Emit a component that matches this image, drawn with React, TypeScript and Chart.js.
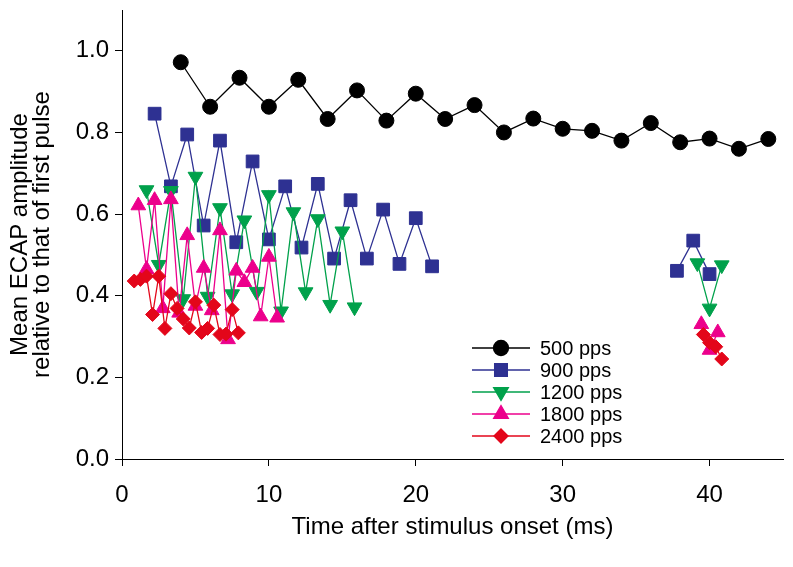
import React, { useEffect, useRef } from 'react';
import { Chart, registerables } from 'chart.js';
import { drawPoint } from 'chart.js/helpers';

Chart.register(...registerables);

// ---- data (time in ms, normalized ECAP amplitude) ----
const pps500X = [4, 6, 8, 10, 12, 14, 16, 18, 20, 22, 24, 26, 28, 30, 32, 34, 36, 38, 40, 42, 44];
const pps500Y = [0.972, 0.863, 0.934, 0.863, 0.929, 0.833, 0.903, 0.829, 0.895, 0.833, 0.867, 0.8, 0.834, 0.809, 0.804, 0.78, 0.823, 0.776, 0.785, 0.76, 0.784];

const pps900X = [2.22, 3.33, 4.44, 5.56, 6.67, 7.78, 8.89, 10.0, 11.11, 12.22, 13.33, 14.44, 15.56, 16.67, 17.78, 18.89, 20.0, 21.11];
const pps900Y = [0.846, 0.668, 0.795, 0.572, 0.78, 0.531, 0.729, 0.538, 0.668, 0.518, 0.674, 0.491, 0.634, 0.491, 0.611, 0.478, 0.59, 0.472];
const pps900LateX = [37.78, 38.89, 40.0];
const pps900LateY = [0.461, 0.535, 0.453];

const pps1200X = [1.67, 2.5, 3.33, 4.17, 5.0, 5.83, 6.67, 7.5, 8.33, 9.17, 10.0, 10.83, 11.67, 12.5, 13.33, 14.17, 15.0, 15.83];
const pps1200Y = [0.659, 0.476, 0.657, 0.392, 0.692, 0.398, 0.615, 0.404, 0.585, 0.41, 0.647, 0.362, 0.605, 0.409, 0.588, 0.378, 0.558, 0.372];
const pps1200LateX = [39.17, 40.0, 40.83];
const pps1200LateY = [0.48, 0.369, 0.475];

const pps1800X = [1.11, 1.67, 2.22, 2.78, 3.33, 3.89, 4.44, 5.0, 5.56, 6.11, 6.67, 7.22, 7.78, 8.33, 8.89, 9.44, 10.0, 10.56];
const pps1800Y = [0.621, 0.465, 0.634, 0.369, 0.636, 0.358, 0.548, 0.375, 0.468, 0.364, 0.56, 0.293, 0.461, 0.433, 0.468, 0.349, 0.495, 0.346];
const pps1800LateX = [39.44, 40.0, 40.56];
const pps1800LateY = [0.33, 0.267, 0.31];

const pps2400X = [0.83, 1.25, 1.67, 2.08, 2.5, 2.92, 3.33, 3.75, 4.17, 4.58, 5.0, 5.42, 5.83, 6.25, 6.67, 7.08, 7.5, 7.92];
const pps2400Y = [0.436, 0.44, 0.448, 0.354, 0.448, 0.32, 0.405, 0.369, 0.343, 0.321, 0.385, 0.31, 0.32, 0.377, 0.305, 0.306, 0.366, 0.309];
const pps2400LateX = [39.58, 40.0, 40.42, 40.83];
const pps2400LateY = [0.305, 0.285, 0.275, 0.245];

const seriesLabels = ['500 pps', '900 pps', '1200 pps', '1800 pps', '2400 pps'];
const xTickStep = 10;
const yTickStep = 0.2;

const COLORS = ['#000000', '#2E3192', '#00A14B', '#EC008C', '#E3061A'];
const STYLES = ['circle', 'rect', 'triangle', 'triangle', 'rectRot'];
const ROT = [0, 0, 180, 0, 0];
const RADII = [7.5, 9, 8.5, 8.5, 7];

const FONT = '"Liberation Sans", Arial, sans-serif';

function pts(xs: number[], ys: number[]) {
  return xs.map((x, i) => ({ x, y: ys[i] }));
}
function withGap(xs: number[], ys: number[], lx: number[], ly: number[]) {
  return [...pts(xs, ys), { x: (xs[xs.length - 1] + lx[0]) / 2, y: null as any }, ...pts(lx, ly)];
}

const legendPlugin = {
  id: 'insideLegend',
  afterDraw(chart: any) {
    const ctx = chart.ctx as CanvasRenderingContext2D;
    const rows = [348, 370, 392, 414, 436];
    const x0 = 472, x1 = 530, xm = 501, xt = 540;
    ctx.save();
    seriesLabels.forEach((lab, i) => {
      const y = rows[i];
      ctx.strokeStyle = COLORS[i];
      ctx.lineWidth = 1.3;
      ctx.beginPath();
      ctx.moveTo(x0, y);
      ctx.lineTo(x1, y);
      ctx.stroke();
      ctx.fillStyle = COLORS[i];
      drawPoint(ctx, { pointStyle: STYLES[i] as any, radius: RADII[i], rotation: ROT[i], borderWidth: 1 } as any, xm, y);
      ctx.fillStyle = '#000';
      ctx.font = `20px ${FONT}`;
      ctx.textBaseline = 'middle';
      ctx.textAlign = 'left';
      ctx.fillText(lab, xt, y + 1);
    });
    ctx.restore();
  },
};

export default function App() {
  const ref = useRef<HTMLCanvasElement | null>(null);
  useEffect(() => {
    if (!ref.current) return;
    const mk = (i: number, data: any[]) => ({
      label: seriesLabels[i],
      data,
      borderColor: COLORS[i],
      backgroundColor: COLORS[i],
      borderWidth: 1.3,
      pointStyle: STYLES[i],
      pointRotation: ROT[i],
      pointRadius: RADII[i],
      pointBorderWidth: 1,
      pointBorderColor: COLORS[i],
      pointBackgroundColor: COLORS[i],
      showLine: true,
      tension: 0,
      spanGaps: false,
      order: 4 - i,
    });
    const chart = new Chart(ref.current, {
      type: 'scatter',
      data: {
        datasets: [
          mk(0, pts(pps500X, pps500Y)),
          mk(1, withGap(pps900X, pps900Y, pps900LateX, pps900LateY)),
          mk(2, withGap(pps1200X, pps1200Y, pps1200LateX, pps1200LateY)),
          mk(3, withGap(pps1800X, pps1800Y, pps1800LateX, pps1800LateY)),
          mk(4, withGap(pps2400X, pps2400Y, pps2400LateX, pps2400LateY)),
        ] as any,
      },
      options: {
        animation: false,
        responsive: false,
        devicePixelRatio: 1,
        layout: { padding: { left: 0, top: 7, right: 10, bottom: 0 } },
        plugins: { legend: { display: false }, tooltip: { enabled: false } },
        scales: {
          x: {
            type: 'linear',
            min: 0,
            max: 45,
            grid: { display: true, drawOnChartArea: false, drawTicks: true, tickLength: 7, color: '#000', lineWidth: 1 },
            border: { display: true, color: '#000', width: 1 },
            ticks: {
              stepSize: xTickStep,
              includeBounds: false,
              color: '#000',
              padding: 15,
              font: { family: FONT, size: 24 },
              maxRotation: 0,
            },
            title: {
              display: true,
              text: 'Time after stimulus onset (ms)',
              color: '#000',
              font: { family: FONT, size: 24 },
              padding: { top: 0, bottom: 25 },
            },
            afterFit: (s: any) => {
              s.height = 108;
              s.paddingLeft = 0;
              s.paddingRight = 0;
            },
          },
          y: {
            type: 'linear',
            min: 0,
            max: 1.1,
            grid: { display: true, drawOnChartArea: false, drawTicks: true, tickLength: 7, color: '#000', lineWidth: 1 },
            border: { display: true, color: '#000', width: 1 },
            ticks: {
              stepSize: yTickStep,
              includeBounds: false,
              color: '#000',
              padding: 6,
              font: { family: FONT, size: 24 },
              callback: (v: any) => Number(v).toFixed(1),
            },
            title: {
              display: true,
              text: ['Mean ECAP amplitude', 'relative to that of first pulse'],
              color: '#000',
              font: { family: FONT, size: 24, lineHeight: 0.9 },
              padding: { top: 10, bottom: 0 },
            },
            afterFit: (s: any) => {
              s.width = 122;
              s.paddingTop = 0;
              s.paddingBottom = 0;
            },
          },
        },
      } as any,
      plugins: [legendPlugin],
    });
    return () => chart.destroy();
  }, []);
  return (
    <div style={{ position: 'fixed', left: 0, top: 0, width: 793, height: 567, background: '#fff' }}>
      <canvas ref={ref} width={793} height={567} style={{ width: 793, height: 567, display: 'block' }} />
    </div>
  );
}
